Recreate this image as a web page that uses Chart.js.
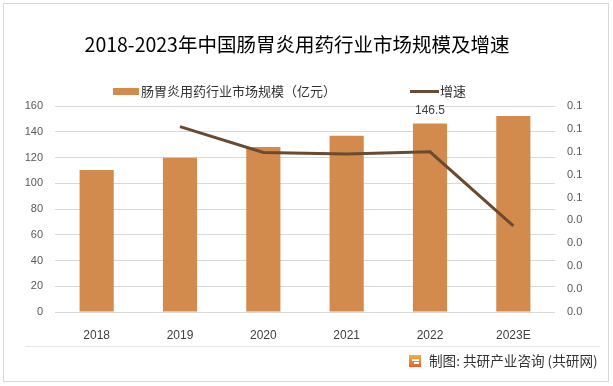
<!DOCTYPE html>
<html>
<head>
<meta charset="utf-8">
<script src="https://cdn.jsdelivr.net/npm/chart.js@4"></script>
<style>
  html, body { margin: 0; padding: 0; background: #fff; }
  #wrap { width: 613px; height: 386px; position: relative; }
</style>
</head>
<body>
<div id="wrap"><canvas id="grafico" width="613" height="386"></canvas></div>
<script>
// dados
const anos = ["2018", "2019", "2020", "2021", "2022", "2023E"];
const mercado = [110.2, 119.8, 128.1, 136.9, 146.5, 152.3];
const crescimento = [null, 0.081, 0.0697, 0.069, 0.07, 0.0376];
const ticksEsq = [0, 20, 40, 60, 80, 100, 120, 140, 160];
const titulo = "2018-2023年中国肠胃炎用药行业市场规模及增速";
const nomeBarra = "肠胃炎用药行业市场规模（亿元）";
const nomeLinha = "增速";
const rotulo2022 = "146.5";
const rodape = "制图: 共研产业咨询 (共研网)";

const corBarra = "#D38B4D";
const corLinha = "#6A4A30";
const fonteCJK = "'Noto Sans CJK SC', 'Noto Sans', sans-serif";
const fonteNum = "'Liberation Sans', Arial, sans-serif";

// titulo, legenda, moldura e rodape
const extras = {
    id: "extras",
    afterDraw(chart) {
        const ctx = chart.ctx;
        ctx.save();
        // moldura
        ctx.strokeStyle = "#d9d9d9";
        ctx.lineWidth = 1;
        ctx.strokeRect(3.5, 3.5, 605, 378);
        ctx.strokeStyle = "#e6e6e6";
        ctx.beginPath();
        ctx.moveTo(25, 346.5);
        ctx.lineTo(600, 346.5);
        ctx.stroke();

        // titulo
        ctx.fillStyle = "#000";
        ctx.font = "19.5px " + fonteCJK;
        ctx.textAlign = "center";
        ctx.textBaseline = "middle";
        ctx.fillText(titulo, 297, 45);

        // legenda
        ctx.textAlign = "left";
        ctx.font = "13px " + fonteCJK;
        ctx.fillStyle = corBarra;
        ctx.fillRect(113, 88, 26, 7);
        ctx.fillStyle = "#333";
        ctx.fillText(nomeBarra, 141, 91);
        ctx.strokeStyle = corLinha;
        ctx.lineWidth = 3;
        ctx.beginPath();
        ctx.moveTo(410, 91.5);
        ctx.lineTo(439, 91.5);
        ctx.stroke();
        ctx.fillText(nomeLinha, 440, 91);

        // rotulo de 2022
        const xs = chart.scales.x;
        const ys = chart.scales.y;
        const i = anos.indexOf("2022");
        ctx.font = "12px " + fonteNum;
        ctx.fillStyle = "#404040";
        ctx.textAlign = "center";
        ctx.fillText(rotulo2022, xs.getPixelForValue(i), ys.getPixelForValue(mercado[i]) - 13);

        // rodape com logo
        const g = ctx.createLinearGradient(0, 355, 0, 367);
        g.addColorStop(0, "#F7B03C");
        g.addColorStop(1, "#E8602C");
        ctx.fillStyle = g;
        ctx.fillRect(409, 355, 12, 12);
        ctx.fillStyle = "#fff";
        ctx.fillRect(412, 359, 7, 2);
        ctx.fillRect(414, 362, 5, 2);
        ctx.fillStyle = "#333";
        ctx.textAlign = "left";
        ctx.font = "13.6px " + fonteCJK;
        ctx.fillText(rodape, 429, 361);
        ctx.restore();
    }
};

new Chart(document.getElementById("grafico"), {
    data: {
        labels: anos,
        datasets: [
            {
                type: "line",
                label: nomeLinha,
                data: crescimento,
                yAxisID: "y1",
                borderColor: corLinha,
                backgroundColor: corLinha,
                borderWidth: 3,
                pointRadius: 0,
                tension: 0,
                order: 0
            },
            {
                type: "bar",
                label: nomeBarra,
                data: mercado,
                yAxisID: "y",
                backgroundColor: corBarra,
                barPercentage: 0.41,
                categoryPercentage: 1,
                order: 1
            }
        ]
    },
    options: {
        responsive: false,
        animation: false,
        layout: { padding: { top: 106, left: 0, right: 0, bottom: 0 } },
        plugins: {
            legend: { display: false },
            title: { display: false },
            tooltip: { enabled: false }
        },
        scales: {
            x: {
                grid: { display: false },
                border: { display: false },
                ticks: { color: "#404040", font: { size: 12, family: fonteNum }, padding: 8, maxRotation: 0 },
                afterFit(s) { s.height = 74; }
            },
            y: {
                position: "left",
                min: 0,
                max: 160,
                afterBuildTicks(s) { s.ticks = ticksEsq.map(v => ({ value: v })); },
                grid: { color: "#d9d9d9", drawTicks: false },
                border: { display: false },
                ticks: { color: "#595959", font: { size: 11, family: fonteNum }, padding: 12 },
                afterFit(s) { s.width = 55; }
            },
            y1: {
                position: "right",
                min: 0,
                max: 0.09,
                grid: { display: false, drawTicks: false },
                border: { display: false },
                ticks: {
                    stepSize: 0.01,
                    color: "#595959",
                    font: { size: 11, family: fonteNum },
                    padding: 12,
                    callback: v => (Math.round(v * 100 + 1e-6) >= 5 ? Math.round(v * 10 + 1e-6) / 10 : Math.round(v * 10 - 1e-6) / 10).toFixed(1)
                },
                afterFit(s) { s.width = 58; }
            }
        }
    },
    plugins: [extras]
});
</script>
</body>
</html>
